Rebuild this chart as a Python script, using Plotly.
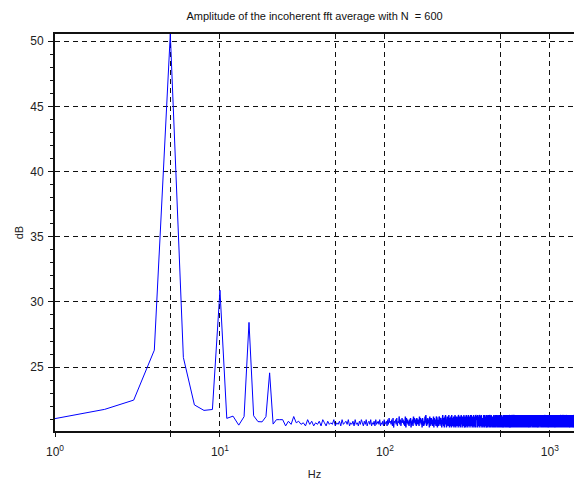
import numpy as np
import plotly.graph_objects as go

# Spectrum below 22 Hz, one value per 1 Hz bin (dB)
low_freqs = list(range(1, 22))
low_db = [21.05, 21.76, 22.47, 26.3, 50.55, 25.74, 22.1, 21.68, 21.75, 30.9,
          21.07, 21.24, 20.55, 21.2, 28.43, 21.27, 20.82, 20.8, 21.2, 24.56, 20.63]

# Noise floor from 22 Hz upward, one digit per 1 Hz bin:
# level = floor_base + floor_step * digit
floor_base = 20.25
floor_step = 0.12
floor_digits = [
    # 22 - 100 Hz
    "6662538453426352435264253436243526345362435263425364253624",
    "536243526345362435263",
    # 101 - 200 Hz
    "4526374536271546372548362574635281746352647153628475362745",
    "3628475361746253849526374651826374526381746352847163528473",
    # 201 Hz upward
    "4725183964271583946125837249615372841963527481362957148326",
    "6381947253816249573184265397142586319472586139742685317924",
    "2947516382749153682471935864271593846257193486253719842637",
    "5163829476153927486315294768153492867315924876135492678314",
    "8371524693817425369148273659412837564912387564192837465129",
    "3594728163572481936495827316459281763942581376945821739462",
    "7136284915732648195376241859327641853972461859374216895734",
    "1695382476139582746153928476591328764195382467158932741568",
    "4283917565249381765742839156627384915537281946382917465593",
    "6917243858135792462687319542871536945728163947258613947256",
    "3528164797461938252739584616248379155837246193728461953872",
    "5749261838326475916482759317524819637294815637182946375819",
    "2861795343917528646384219757251893466192837451947362815473",
    "9134572686248513797316824955683917242957184366174825936184",
    "4682319575371942868257193464193825767491538262846157393571",
    "7359846214628175933948216575716394822683157947429356181637",
    "1847263595293748164618293577354618299271836454859274613826",
    "6273591848742615391583726946239184758416253973975148263614",
    "3956182747185943622746815393621847595584367218419275386452",
    "8514937265463817294279356184815274639937128564652843917738",
    "5183726492847153962748135926384",
]

noise = np.array([int(c) for c in "".join(floor_digits)])
noise_db = floor_base + floor_step * noise
noise_freqs = np.arange(22, 22 + len(noise_db))

freqs = np.concatenate([low_freqs, noise_freqs])
db = np.concatenate([low_db, noise_db])

x_tickvals = [1, 5, 10, 50, 100, 500, 1000]
x_ticktext = ["10<sup>0</sup>", "", "10<sup>1</sup>", "", "10<sup>2</sup>", "", "10<sup>3</sup>"]
y_tickvals = [25, 30, 35, 40, 45, 50]

# The dense upper part of the spectrum is stroked a little heavier so the
# many 1 Hz bins per pixel render as a solid band.
split = 130
lo = freqs <= split
hi = freqs >= split

fig = go.Figure()
fig.add_trace(go.Scatter(x=freqs[lo], y=db[lo], mode="lines",
                         line=dict(color="#0000ff", width=1), hoverinfo="skip"))
fig.add_trace(go.Scatter(x=freqs[hi], y=db[hi], mode="lines",
                         line=dict(color="#0000ff", width=1.4), hoverinfo="skip"))

font = "Liberation Sans, Arial, sans-serif"
fig.update_layout(
    width=574, height=482,
    margin=dict(l=55, r=0, t=34, b=51),
    paper_bgcolor="white", plot_bgcolor="white",
    showlegend=False,
    title=dict(text="Amplitude of the incoherent fft average with N  = 600",
               x=0.548, xanchor="center", y=0.967, yanchor="middle",
               font=dict(family=font, size=11, color="#111")),
    font=dict(family=font, size=12, color="#222"),
)

fig.update_xaxes(
    type="log", range=[0, np.log10(1400)],
    tickvals=x_tickvals, ticktext=x_ticktext,
    ticks="outside", ticklen=4, tickcolor="#111", ticklabelstandoff=5,
    showline=True, linecolor="#111", linewidth=2, mirror=True,
    showgrid=True, gridcolor="#111", gridwidth=1, griddash="5px,4px",
    zeroline=False,
    title=dict(text="Hz", standoff=12, font=dict(size=11)),
)
fig.update_yaxes(
    range=[20.1, 50.55],
    tickvals=y_tickvals,
    ticks="outside", ticklen=5, tickcolor="#111", ticklabelstandoff=2,
    minor=dict(dtick=1, ticks="outside", ticklen=3, tickcolor="#111", showgrid=False),
    showline=True, linecolor="#111", linewidth=2,
    showgrid=True, gridcolor="#111", gridwidth=1, griddash="5px,4px",
    zeroline=False,
    title=dict(text="dB", standoff=4, font=dict(size=11)),
)

fig.write_html("out.html")
